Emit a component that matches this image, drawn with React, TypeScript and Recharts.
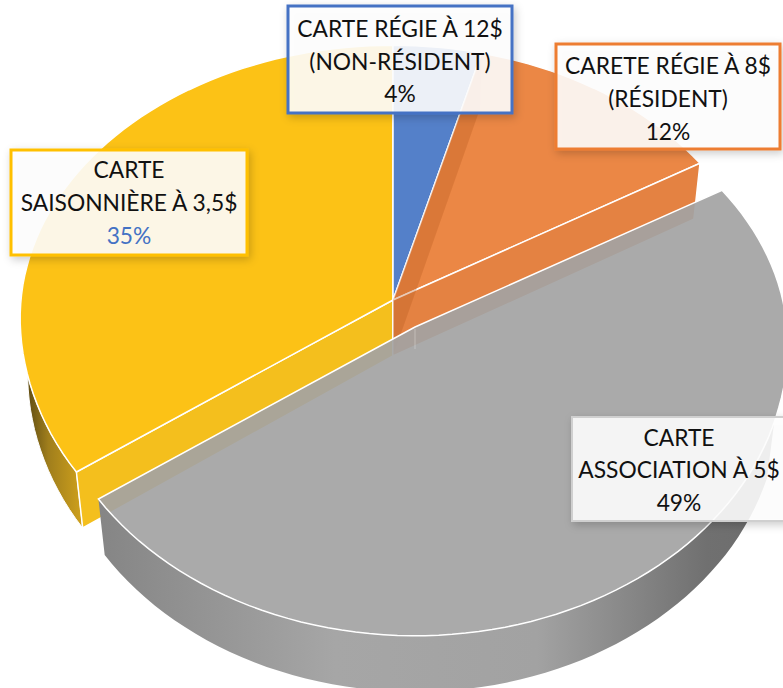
import { Pie, PieChart } from "recharts";

const SLICE_NAMES = ["saison", "regie12", "regie8", "association"];
const SLICE_VALUES = [35, 4, 12, 49];
const SLICE_COLORS = ["#FCC216", "#5480C9", "#EB8745", "#A3A3A3"];

const LABEL_LINES: Record<string, string[]> = {
  saison: ["CARTE", "SAISONNIÈRE À 3,5$", "35%"],
  regie12: ["CARTE RÉGIE À 12$", "(NON-RÉSIDENT)", "4%"],
  regie8: ["CARETE RÉGIE À 8$", "(RÉSIDENT)", "12%"],
  association: ["CARTE", "ASSOCIATION À 5$", "49%"],
};

// label box placement, x/y/w/h then text centre and the three baselines
const LABEL_BOXES: Record<string, any> = {
  saison: { x: 11, y: 150, w: 236, h: 105, tx: 129, base: [178, 211, 244], border: "#FFC000", line: 3, pct: "#4472C4" },
  regie12: { x: 288, y: 6, w: 224, h: 107, tx: 400, base: [37, 70, 102], border: "#4472C4", line: 3, pct: "#111" },
  regie8: { x: 556, y: 44, w: 224, h: 105, tx: 668, base: [74, 107, 140], border: "#ED7D31", line: 3, pct: "#111" },
  association: { x: 572, y: 417, w: 222, h: 104, tx: 679, base: [446, 478, 511], border: "#CFCFCF", line: 2, pct: "#111" },
};

const data = SLICE_NAMES.map((name, i) => ({ name, value: SLICE_VALUES[i], fill: SLICE_COLORS[i] }));

// fake 3D: tilt + a bit of perspective
const TILT = 0.73;
const PERSP = 0.066;
const DEPTH = 56;
const BOTTOM_SCALE = 0.98;
const GREY_OFFSET = { x: 22, y: 27 };

function project(cx: number, cy: number, r: number, theta: number) {
  const base = (theta * Math.PI) / 180;
  // the picture's angles lean slightly clockwise away from the vertical
  const rad = base + (1.2 * Math.abs(Math.sin(base)) * Math.PI) / 180;
  const depth = Math.cos(rad);
  const s = 1 / (1 + PERSP * depth);
  // front half of the disc is stretched a little more than the back
  const front = depth < 0 ? 1 + 0.062 * Math.sin(Math.min(1, -depth / 0.6) * (Math.PI / 2)) : 1;
  return { x: cx + r * Math.sin(rad) * s, y: cy - r * TILT * front * depth * s };
}

function drop(cx: number, p: { x: number; y: number }) {
  return { x: cx + (p.x - cx) * BOTTOM_SCALE, y: p.y + DEPTH };
}

function arc(cx: number, cy: number, r: number, from: number, to: number) {
  const pts = [];
  const n = Math.max(2, Math.ceil(Math.abs(to - from) / 2));
  for (let i = 0; i <= n; i++) pts.push(project(cx, cy, r, from + ((to - from) * i) / n));
  return pts;
}

const toPath = (pts: { x: number; y: number }[]) =>
  pts.map((p, i) => `${i ? "L" : "M"}${p.x.toFixed(1)} ${p.y.toFixed(1)}`).join(" ") + " Z";

function Slice(props: any) {
  const name = props.name ?? props.payload?.name;
  const grey = name === "association";
  const cx = props.cx + (grey ? GREY_OFFSET.x : 0);
  const cy = props.cy + (grey ? GREY_OFFSET.y : 0);
  const r = props.outerRadius;
  const from = 90 - props.startAngle;
  const to = 90 - props.endAngle;
  const apex = { x: cx, y: cy };
  const rimTop = arc(cx, cy, r, from, to);
  const top = toPath([apex, ...rimTop]);
  const cutFace = (p: { x: number; y: number }) => toPath([apex, p, drop(cx, p), drop(cx, apex)]);

  if (name === "saison") {
    const rim = arc(cx, cy, r, from, from + 40);
    return (
      <g>
        <path d={toPath([...rim, ...rim.map((p) => drop(cx, p)).reverse()])} fill="url(#yellowRim)" stroke="#fff" strokeWidth={1} />
        <path d={cutFace(rimTop[0])} fill="#F4BF1D" stroke="#fff" strokeWidth={1.5} />
        <path d={top} fill={props.fill} stroke="#fff" strokeWidth={1.5} />
      </g>
    );
  }
  if (name === "regie8") {
    const last = rimTop[rimTop.length - 1];
    return (
      <g>
        <path d={top} fill={props.fill} stroke="#fff" strokeWidth={1.5} />
        <path d={cutFace(last)} fill="#E48242" stroke="#fff" strokeWidth={1.5} />
        {/* back cut face shows through the slice */}
        <path d={cutFace(rimTop[0])} fill="#B85A20" fillOpacity={0.32} />
      </g>
    );
  }
  if (grey) {
    const rim = arc(cx, cy, r, 108, to);
    return (
      <g>
        <path d={toPath([...rim, ...rim.map((p) => drop(cx, p)).reverse()])} fill="url(#greyRim)" />
        <path d={top} fill={props.fill} fillOpacity={0.92} stroke="#fff" strokeWidth={1.5} />
        <line x1={cx} y1={cy + 2} x2={cx} y2={cy + 22} stroke="#fff" strokeOpacity={0.15} strokeWidth={2} />
      </g>
    );
  }
  return <path d={top} fill={props.fill} stroke="#fff" strokeWidth={1.5} />;
}

function SliceLabel(props: any) {
  const name = props.name ?? props.payload?.name;
  const box = LABEL_BOXES[name];
  const lines = LABEL_LINES[name];
  return (
    <g>
      <rect
        x={box.x}
        y={box.y}
        width={box.w}
        height={box.h}
        fill="#fff"
        fillOpacity={0.88}
        stroke={box.border}
        strokeWidth={box.line}
        filter="url(#boxShadow)"
      />
      {lines.map((line, i) => (
        <text
          key={i}
          x={box.tx}
          y={box.base[i]}
          textAnchor="middle"
          fontFamily="Lato, sans-serif"
          fontSize={22.8}
          fill={i === 2 ? box.pct : "#111"}
        >
          {line}
        </text>
      ))}
    </g>
  );
}

export default function App() {
  return (
    <div style={{ position: "absolute", left: 0, top: 0, width: 783, height: 688, overflow: "hidden", background: "#fff" }}>
      <PieChart width={783} height={688} margin={{ top: 0, right: 0, bottom: 0, left: 0 }}>
        <defs>
          <linearGradient id="yellowRim" x1="0" y1="0" x2="1" y2="0">
            <stop offset="0%" stopColor="#4A3C10" />
            <stop offset="45%" stopColor="#A07E1C" />
            <stop offset="100%" stopColor="#CFA11C" />
          </linearGradient>
          <linearGradient id="greyRim" x1="0" y1="0" x2="1" y2="0">
            <stop offset="0%" stopColor="#858585" />
            <stop offset="35%" stopColor="#A6A6A6" />
            <stop offset="65%" stopColor="#A2A2A2" />
            <stop offset="90%" stopColor="#707070" />
            <stop offset="100%" stopColor="#6C6C6C" />
          </linearGradient>
          <filter id="boxShadow" x="-10%" y="-10%" width="125%" height="130%">
            <feDropShadow dx="2" dy="3" stdDeviation="4" floodColor="#000" floodOpacity="0.22" />
          </filter>
        </defs>
        <Pie
          data={data}
          dataKey="value"
          nameKey="name"
          cx={393}
          cy={300}
          outerRadius={372}
          startAngle={216}
          endAngle={-144}
          stroke="none"
          paddingAngle={0}
          isAnimationActive={false}
          shape={Slice}
          label={SliceLabel}
          labelLine={false}
        />
      </PieChart>
    </div>
  );
}
